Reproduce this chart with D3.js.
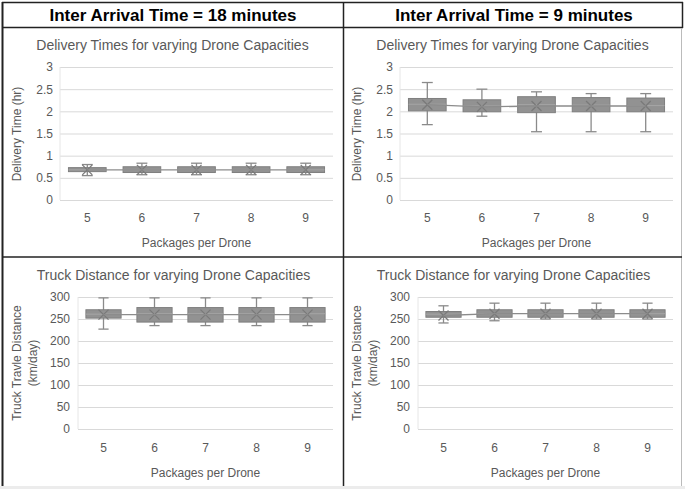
<!DOCTYPE html>
<html>
<head>
<meta charset="utf-8">
<script src="https://cdn.jsdelivr.net/npm/d3@7"></script>
<style>
  body { margin: 0; background: #fff; }
  text { font-family: "Liberation Sans", Arial, sans-serif; }
</style>
</head>
<body>
<div id="chart"></div>
<script>
// categories and box stats: [min, q1, median, q3, max, mean]
const packages = ['5', '6', '7', '8', '9'];

const delivery18 = [
    [0.55, 0.64, 0.68, 0.73, 0.80, 0.68],
    [0.57, 0.62, 0.68, 0.75, 0.83, 0.68],
    [0.57, 0.62, 0.68, 0.75, 0.83, 0.68],
    [0.57, 0.62, 0.68, 0.75, 0.83, 0.68],
    [0.57, 0.62, 0.68, 0.75, 0.83, 0.68]
];
const delivery9 = [
    [1.70, 2.01, 2.16, 2.29, 2.65, 2.15],
    [1.89, 1.99, 2.12, 2.26, 2.50, 2.10],
    [1.54, 1.97, 2.15, 2.33, 2.44, 2.12],
    [1.54, 1.99, 2.14, 2.31, 2.40, 2.12],
    [1.54, 1.99, 2.13, 2.30, 2.40, 2.12]
];
const truck18 = [
    [227, 252, 261, 271, 298, 260],
    [235, 243, 262, 276, 298, 260],
    [235, 243, 262, 276, 298, 260],
    [235, 243, 262, 276, 298, 260],
    [235, 243, 262, 276, 298, 260]
];
const truck9 = [
    [241, 254, 261, 267, 280, 258],
    [246, 254, 262, 271, 286, 262],
    [250, 254, 262, 271, 286, 262],
    [250, 254, 262, 271, 286, 262],
    [250, 254, 262, 271, 286, 262]
];

const deliveryTicks = [0, 0.5, 1, 1.5, 2, 2.5, 3];
const truckTicks = [0, 50, 100, 150, 200, 250, 300];

const headers = ['Inter Arrival Time = 18 minutes', 'Inter Arrival Time = 9 minutes'];

const W = 685, H = 489;
const svg = d3.select('#chart').append('svg')
    .attr('width', W)
    .attr('height', H);

svg.append('rect').attr('x', 0).attr('y', 0).attr('width', W).attr('height', H).attr('fill', '#fff');
// grey strip at the bottom
svg.append('rect').attr('x', 0).attr('y', 486).attr('width', W).attr('height', 3).attr('fill', '#ececec');

const grey = '#595959';

// panel layout
const panels = [
    { data: delivery18, ticks: deliveryTicks, ox: 0, title: 'Delivery Times for varying Drone Capacities',
      ytitle: ['Delivery Time (hr)'], left: 60, right: 333, top: 67, bottom: 200, titleY: 50, labY: 222, axY: 247, ytX: 17, ytY: 134, tickX: 53 },
    { data: delivery9, ticks: deliveryTicks, ox: 340, title: 'Delivery Times for varying Drone Capacities',
      ytitle: ['Delivery Time (hr)'], left: 60, right: 333, top: 67, bottom: 200, titleY: 50, labY: 222, axY: 247, ytX: 17, ytY: 134, tickX: 53 },
    { data: truck18, ticks: truckTicks, ox: 0, title: 'Truck Distance for varying Drone Capacities',
      ytitle: ['Truck Travle Distance', '(km/day)'], left: 78, right: 333, top: 297, bottom: 429, titleY: 280, labY: 452, axY: 477, ytX: 17, ytY: 363, tickX: 70 },
    { data: truck9, ticks: truckTicks, ox: 340, title: 'Truck Distance for varying Drone Capacities',
      ytitle: ['Truck Travle Distance', '(km/day)'], left: 78, right: 333, top: 297, bottom: 429, titleY: 280, labY: 452, axY: 477, ytX: 17, ytY: 363, tickX: 70 }
];

panels.forEach(p => {
    const g = svg.append('g').attr('transform', `translate(${p.ox},0)`);

    const x = d3.scaleBand().domain(packages).range([p.left, p.right]);
    const y = d3.scaleLinear().domain([0, d3.max(p.ticks)]).range([p.bottom, p.top]);

    // gridlines + y labels
    const yAxis = g.append('g')
        .attr('transform', `translate(${p.left},0)`)
        .call(d3.axisLeft(y).tickValues(p.ticks).tickFormat(d3.format('~g'))
            .tickSize(-(p.right - p.left)).tickPadding(p.left - p.tickX));
    yAxis.select('.domain').remove();
    yAxis.selectAll('line').attr('stroke', '#d9d9d9');
    yAxis.selectAll('text').attr('fill', grey).attr('font-size', 12);

    // faint vertical axis line
    g.append('line')
        .attr('x1', p.left).attr('x2', p.left)
        .attr('y1', p.top).attr('y2', p.bottom)
        .attr('stroke', '#e6e6e6');

    const xAxis = g.append('g')
        .attr('transform', `translate(0,${p.labY - 9})`)
        .call(d3.axisBottom(x).tickSize(0).tickPadding(0));
    xAxis.select('.domain').remove();
    xAxis.selectAll('text').attr('fill', grey).attr('font-size', 12).attr('dy', '0.71em');

    // titles
    g.append('text')
        .attr('x', (p.left + p.right) / 2 - 24 + (p.left === 78 ? -8 : 0))
        .attr('y', p.titleY)
        .attr('text-anchor', 'middle')
        .attr('fill', grey)
        .attr('font-size', 14)
        .text(p.title);

    g.append('text')
        .attr('x', (p.left + p.right) / 2)
        .attr('y', p.axY)
        .attr('text-anchor', 'middle')
        .attr('fill', grey)
        .attr('font-size', 12)
        .text('Packages per Drone');

    const yt = g.append('text')
        .attr('transform', `translate(${p.ytX},${p.ytY}) rotate(-90)`)
        .attr('text-anchor', 'middle')
        .attr('fill', grey)
        .attr('font-size', 12);
    p.ytitle.forEach((t, i) => {
        yt.append('tspan').attr('x', 0).attr('dy', i === 0 ? '0.35em' : '1.3em').text(t);
    });

    const bw = x.bandwidth() * 0.69;
    const cap = x.bandwidth() * 0.2;
    const cx = d => x(packages[d.i]) + x.bandwidth() / 2;
    const rows = p.data.map((v, i) => ({ i, min: v[0], q1: v[1], med: v[2], q3: v[3], max: v[4], mean: v[5] }));

    const box = g.selectAll('.box').data(rows).enter().append('g').attr('class', 'box');

    // whiskers
    box.append('line')
        .attr('x1', cx).attr('x2', cx)
        .attr('y1', d => y(d.max)).attr('y2', d => y(d.min))
        .attr('stroke', '#8a8a8a').attr('stroke-width', 1.3);
    ['min', 'max'].forEach(k => {
        box.append('line')
            .attr('x1', d => cx(d) - cap / 2).attr('x2', d => cx(d) + cap / 2)
            .attr('y1', d => y(d[k])).attr('y2', d => y(d[k]))
            .attr('stroke', '#8a8a8a').attr('stroke-width', 1.3);
    });

    box.append('rect')
        .attr('x', d => cx(d) - bw / 2)
        .attr('width', bw)
        .attr('y', d => y(d.q3))
        .attr('height', d => y(d.q1) - y(d.q3))
        .attr('fill', '#929292')
        .attr('stroke', '#7f7f7f')
        .attr('stroke-width', 1);

    box.append('line')
        .attr('x1', d => cx(d) - bw / 2).attr('x2', d => cx(d) + bw / 2)
        .attr('y1', d => y(d.med)).attr('y2', d => y(d.med))
        .attr('stroke', '#a6a6a6').attr('stroke-width', 1);

    // mean line
    g.append('path')
        .datum(rows)
        .attr('fill', 'none')
        .attr('stroke', '#8c8c8c')
        .attr('stroke-width', 1.3)
        .attr('d', d3.line().x(cx).y(d => y(d.mean)));

    // mean markers
    const m = 5;
    box.append('path')
        .attr('d', d => {
            const X = cx(d), Y = y(d.mean);
            return `M${X - m},${Y - m}L${X + m},${Y + m}M${X - m},${Y + m}L${X + m},${Y - m}`;
        })
        .attr('stroke', '#7a7a7a')
        .attr('stroke-width', 1.3)
        .attr('fill', 'none');
});

// header texts
headers.forEach((h, i) => {
    svg.append('text')
        .attr('x', i === 0 ? 173 : 514)
        .attr('y', 21)
        .attr('text-anchor', 'middle')
        .attr('font-weight', 'bold')
        .attr('font-size', 17)
        .attr('fill', '#000')
        .text(h);
});

// table borders
const bc = '#222';
svg.append('line').attr('x1', 2).attr('x2', 683).attr('y1', 2.5).attr('y2', 2.5).attr('stroke', bc).attr('stroke-width', 1.5);
svg.append('line').attr('x1', 2).attr('x2', 683).attr('y1', 27.5).attr('y2', 27.5).attr('stroke', bc).attr('stroke-width', 1.5);
svg.append('line').attr('x1', 2.5).attr('x2', 2.5).attr('y1', 2).attr('y2', 486).attr('stroke', bc).attr('stroke-width', 2);
svg.append('line').attr('x1', 682.5).attr('x2', 682.5).attr('y1', 2).attr('y2', 28).attr('stroke', bc).attr('stroke-width', 1.5);
svg.append('line').attr('x1', 681.5).attr('x2', 681.5).attr('y1', 28).attr('y2', 486).attr('stroke', '#bbb').attr('stroke-width', 1);
svg.append('line').attr('x1', 343.5).attr('x2', 343.5).attr('y1', 2).attr('y2', 486).attr('stroke', bc).attr('stroke-width', 1.5);
svg.append('line').attr('x1', 2).attr('x2', 682).attr('y1', 257).attr('y2', 257).attr('stroke', bc).attr('stroke-width', 1.5);
</script>
</body>
</html>
